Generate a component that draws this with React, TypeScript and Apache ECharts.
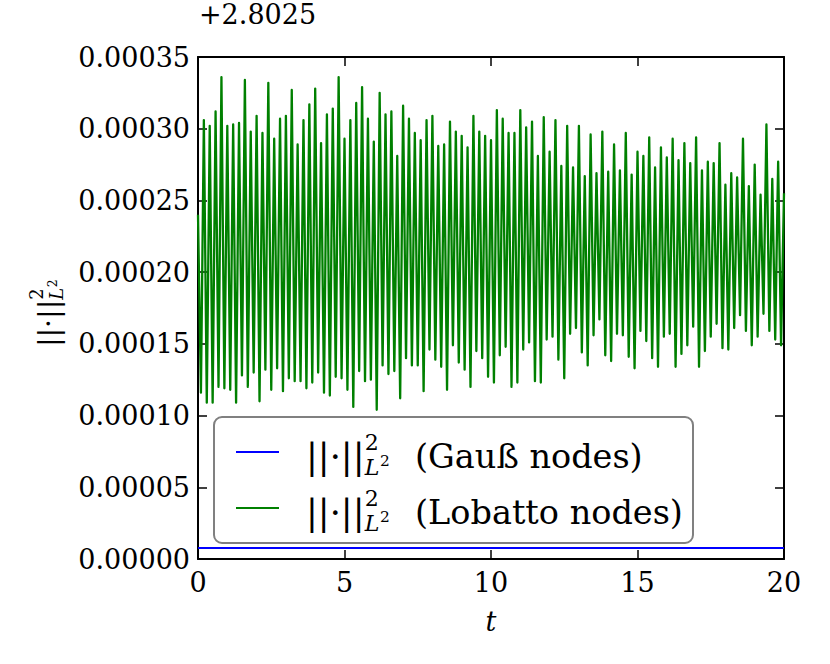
import React, { useEffect, useRef } from "react";
import * as echarts from "echarts";

// ---- data (values in units of 1e-5, offset +2.8025) ----
const X_TICKS_INTERVAL = 5;
const OFFSET_LABEL = "+2.8025";
const VALUE_UNIT = 1e-5;
const GAUSS_T = [0, 20];
const GAUSS_V = [0.77, 0.77];
const LOBATTO_T_START = 0;
const LOBATTO_T_END = 20;
const LOBATTO_START = 24.0;
const LOBATTO_END = 25.5;
const EXTREMA_DT = 0.1; // troughs at 0.1, 0.3, ...; peaks at 0.2, 0.4, ...
const LOBATTO_TROUGHS = [
  11.6, 10.9, 10.9, 12.0, 11.9, 11.8, 10.9, 12.8, 12.0, 13.0, 11.0, 13.2, 11.8, 13.3, 11.7, 12.6, 12.4,
  12.4, 11.9, 12.3, 13.0, 11.6, 11.4, 12.7, 12.6, 11.8, 10.6, 13.1, 12.4, 12.5, 10.4, 13.5, 12.9,
  13.1, 11.2, 14.0, 13.5, 13.5, 11.7, 14.6, 13.9, 13.4, 11.8, 14.9, 13.7, 13.2, 12.0, 14.5, 14.0, 12.7,
  12.3, 14.2, 14.8, 12.0, 12.3, 14.6, 15.1, 12.4, 12.3, 15.3, 15.5, 13.9, 12.6, 15.7, 16.1, 14.4, 13.5,
  15.6, 16.7, 14.2, 13.8, 15.7, 15.6, 14.1, 13.3, 15.9, 15.2, 14.0, 13.4, 15.5, 15.7, 13.4, 14.3, 14.9,
  16.2, 13.4, 14.5, 15.5, 16.4, 14.7, 14.6, 16.1, 17.0, 15.9, 14.9, 15.5, 17.1, 15.9, 15.3, 14.9,
];
const LOBATTO_PEAKS = [
  30.6, 30.2, 31.2, 33.6, 30.2, 30.3, 30.4, 33.4, 29.8, 30.9, 29.7, 33.2, 29.3, 30.7, 30.9, 32.7,
  28.9, 30.6, 31.7, 32.8, 29.0, 31.0, 31.4, 33.6, 29.3, 30.6, 31.8, 32.9, 30.7, 29.1, 32.5, 31.0, 31.2,
  28.1, 31.6, 30.7, 29.7, 29.2, 30.6, 30.9, 28.8, 28.9, 30.5, 29.8, 29.5, 28.7, 30.9, 29.8, 29.5, 29.2,
  31.3, 30.7, 29.7, 29.7, 31.3, 30.1, 30.5, 28.1, 30.8, 28.4, 30.6, 27.4, 30.2, 27.3, 30.2, 26.7,
  29.6, 26.9, 29.8, 27.0, 28.9, 27.1, 29.7, 26.8, 28.4, 28.1, 29.4, 27.3, 28.7, 28.0, 29.3, 27.8, 29.0,
  27.6, 29.4, 27.1, 27.7, 27.6, 29.0, 26.1, 26.9, 26.6, 29.3, 26.0, 27.5, 25.4, 30.3, 26.5, 27.7,
];
const SERIES_NAMES = ["Gauß nodes", "Lobatto nodes"];

const FONT = '"DejaVu Serif", serif';
const TICK_SIZE = 27;
const LEGEND_SIZE = 33.5;

function buildLobatto(): number[][] {
  const pts: number[][] = [[LOBATTO_T_START, LOBATTO_START]];
  for (let i = 0; i < LOBATTO_TROUGHS.length; i++) {
    pts.push([+(EXTREMA_DT * (2 * i + 1)).toFixed(2), LOBATTO_TROUGHS[i]]);
    if (i < LOBATTO_PEAKS.length) pts.push([+(EXTREMA_DT * (2 * i + 2)).toFixed(2), LOBATTO_PEAKS[i]]);
  }
  pts.push([LOBATTO_T_END, LOBATTO_END]);
  return pts;
}

function normText(s: number, z: number) {
  const t = (x: number, y: number, text: string, font: string) => ({
    type: "text", x, y, z,
    style: { text, font, fill: "#000", align: "left", verticalAlign: "middle" },
  });
  return [
    t(0, 0, "||·||", `${1.05 * s}px ${FONT}`),
    t(1.75 * s, -0.43 * s, "2", `${0.66 * s}px ${FONT}`),
    t(1.75 * s, 0.33 * s, "L", `italic ${0.66 * s}px ${FONT}`),
    t(1.75 * s + 0.46 * s, 0.15 * s, "2", `${0.46 * s}px ${FONT}`),
  ];
}

function mkAxisLine() {
  return { show: true, onZero: false, lineStyle: { color: "#000", width: 2 } };
}
function mkTick() {
  return { show: true, inside: true, length: 9, lineStyle: { color: "#000", width: 1.5 } };
}

export default function App() {
  const ref = useRef<HTMLDivElement>(null);
  useEffect(() => {
    if (!ref.current) return;
    const chart = echarts.init(ref.current, null, { renderer: "svg" });
    const labelStyle = { color: "#000", fontFamily: FONT, fontSize: TICK_SIZE };
    const Z = 100;
    const legendRow = (y: number, color: string, label: string) => [
      { type: "line", z: Z, shape: { x1: 236, y1: y, x2: 279, y2: y }, style: { stroke: color, lineWidth: 2 } },
      { type: "group", z: Z, x: 306, y: y + 4, children: normText(LEGEND_SIZE, Z) },
      {
        type: "text", z: Z, x: 415, y: y + 4,
        style: { text: `(${label})`, font: `${LEGEND_SIZE}px ${FONT}`, fill: "#000", align: "left", verticalAlign: "middle" },
      },
    ];
    chart.setOption({
      animation: false,
      grid: { left: 198, right: 46, top: 57, bottom: 105, containLabel: false },
      xAxis: [
        {
          type: "value", position: "bottom", min: 0, max: 20, interval: X_TICKS_INTERVAL,
          axisLine: mkAxisLine(), axisTick: mkTick(), splitLine: { show: false },
          axisLabel: { ...labelStyle, margin: 10 },
          name: "t", nameLocation: "middle", nameGap: 49,
          nameTextStyle: { color: "#000", fontFamily: FONT, fontSize: TICK_SIZE, fontStyle: "italic" },
        },
        {
          type: "value", position: "top", min: 0, max: 20, interval: X_TICKS_INTERVAL,
          axisLine: mkAxisLine(), axisTick: mkTick(), splitLine: { show: false }, axisLabel: { show: false },
        },
      ],
      yAxis: [
        {
          type: "value", position: "left", min: 0, max: 35, interval: 5,
          axisLine: mkAxisLine(), axisTick: mkTick(), splitLine: { show: false },
          axisLabel: { ...labelStyle, margin: 8, formatter: (v: number) => (v * VALUE_UNIT).toFixed(5) },
        },
        {
          type: "value", position: "right", min: 0, max: 35, interval: 5,
          axisLine: mkAxisLine(), axisTick: mkTick(), splitLine: { show: false }, axisLabel: { show: false },
        },
      ],
      series: [
        {
          name: SERIES_NAMES[0], type: "line", symbol: "none", xAxisIndex: 0, yAxisIndex: 0,
          data: GAUSS_T.map((t, i) => [t, GAUSS_V[i]]),
          lineStyle: { color: "#0000ff", width: 2 }, itemStyle: { color: "#0000ff" }, z: 3,
        },
        {
          name: SERIES_NAMES[1], type: "line", symbol: "none", xAxisIndex: 0, yAxisIndex: 0,
          data: buildLobatto(),
          lineStyle: { color: "#008000", width: 2.3, join: "round" }, itemStyle: { color: "#008000" }, z: 2,
        },
      ],
      graphic: [
        {
          type: "text", x: 199, y: 14,
          style: { text: OFFSET_LABEL, font: `${TICK_SIZE}px ${FONT}`, fill: "#000", align: "left", verticalAlign: "middle" },
        },
        { type: "group", x: 48, y: 347, rotation: Math.PI / 2, children: normText(TICK_SIZE, 10) },
        {
          type: "group", z: Z,
          children: [
            {
              type: "rect", z: Z, shape: { x: 214, y: 417, width: 479, height: 126, r: 8 },
              style: { fill: "#fff", stroke: "#808080", lineWidth: 2 },
            },
            ...legendRow(452, "#0000ff", SERIES_NAMES[0]),
            ...legendRow(508, "#008000", SERIES_NAMES[1]),
          ],
        },
      ],
    });
    return () => chart.dispose();
  }, []);
  return <div ref={ref} style={{ position: "absolute", left: 0, top: 0, width: 830, height: 664 }} />;
}
